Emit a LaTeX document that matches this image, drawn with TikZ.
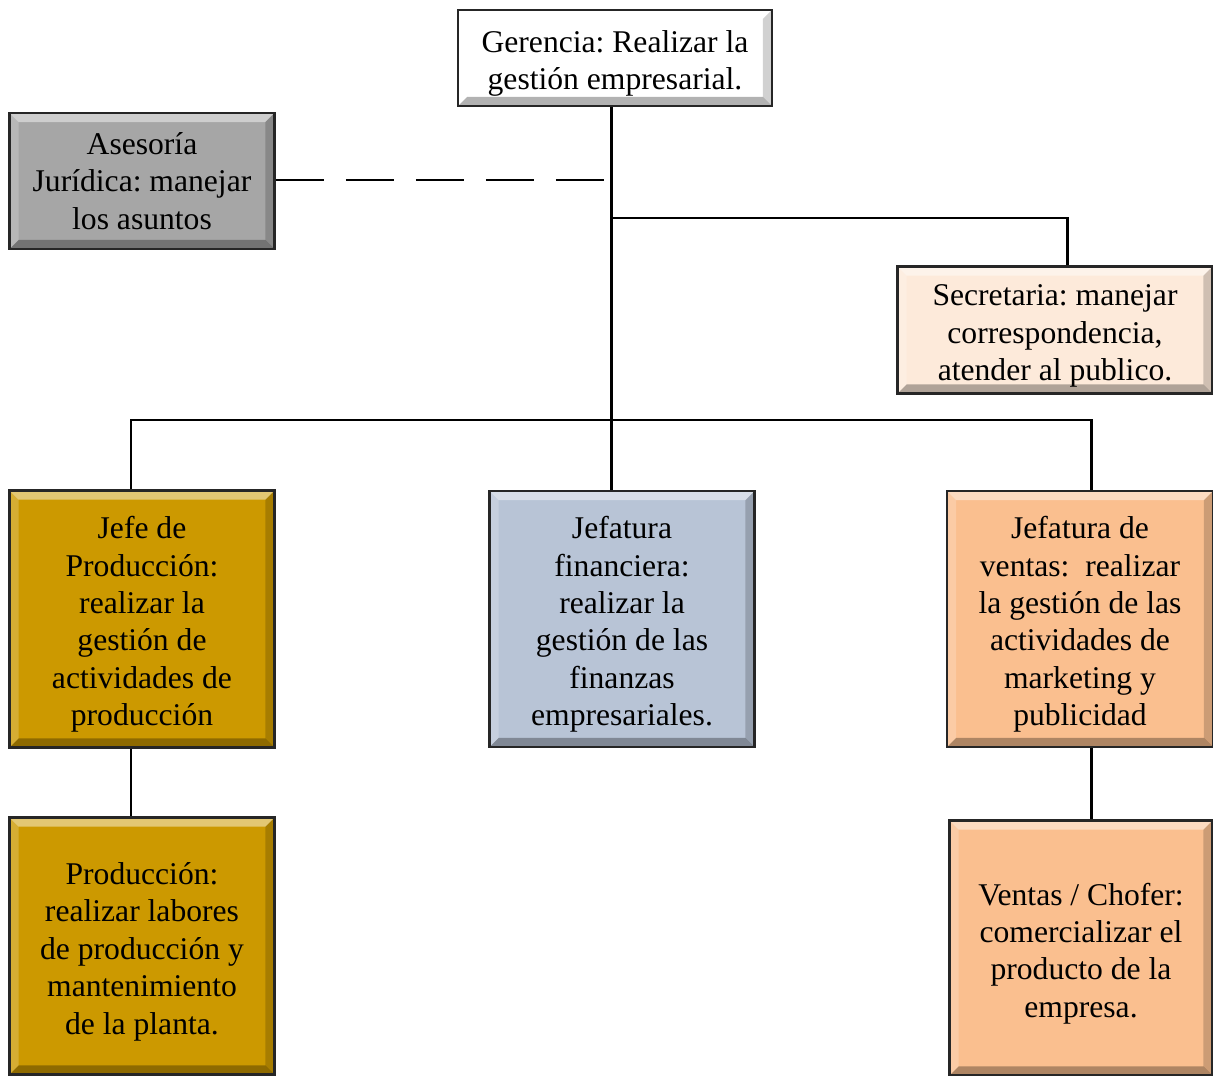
\documentclass[tikz,border=0pt]{standalone}
\usepackage{fontspec}
\setmainfont{Liberation Serif}
\frenchspacing
\usetikzlibrary{positioning,backgrounds}

\definecolor{gris}{RGB}{166,166,166}
\definecolor{crema}{RGB}{253,234,218}
\definecolor{oro}{RGB}{204,153,0}
\definecolor{azulgris}{RGB}{184,196,214}
\definecolor{salmon}{RGB}{250,191,143}

% bisel de las cajas: luz arriba e izquierda, sombra abajo y derecha
\newcommand\bisel{%
  \fill[white,opacity=.45] (path picture bounding box.north west) -- (path picture bounding box.north east)
    -- ([shift={(-.18cm,-.18cm)}]path picture bounding box.north east) -- ([shift={(.18cm,-.18cm)}]path picture bounding box.north west) -- cycle;
  \fill[white,opacity=.2] (path picture bounding box.north west) -- (path picture bounding box.south west)
    -- ([shift={(.18cm,.18cm)}]path picture bounding box.south west) -- ([shift={(.18cm,-.18cm)}]path picture bounding box.north west) -- cycle;
  \fill[black,opacity=.3] (path picture bounding box.south west) -- (path picture bounding box.south east)
    -- ([shift={(-.18cm,.18cm)}]path picture bounding box.south east) -- ([shift={(.18cm,.18cm)}]path picture bounding box.south west) -- cycle;
  \fill[black,opacity=.18] (path picture bounding box.north east) -- (path picture bounding box.south east)
    -- ([shift={(-.18cm,.18cm)}]path picture bounding box.south east) -- ([shift={(-.18cm,-.18cm)}]path picture bounding box.north east) -- cycle;
}

\tikzset{
  cargo/.style={draw=black!85, line width=1.6pt, align=flush center, inner sep=0pt,
    text width=4.8cm, font=\fontsize{18}{21.3}\selectfont, path picture={\bisel},
    execute at begin node={\spaceskip=0pt\xspaceskip=0pt}},
  % baja un poco el texto dentro de la caja
  bajo/.style={execute at begin node={\spaceskip=0pt\xspaceskip=0pt\rule{0pt}{1.05em}}},
  linea/.style={line width=1.7pt, black}
}

\begin{document}
\begin{tikzpicture}[x=0.02cm,y=-0.02cm]
  \useasboundingbox (0,0) rectangle (1213,1075);

  % cajas
  \node[cargo, bajo, text width=5.9cm, fill=white, minimum width=6.28cm, minimum height=1.92cm] (ger) at (615,58)
    {Gerencia: Realizar la\\gestión empresarial.};
  \node[cargo, fill=gris, minimum width=5.3cm, minimum height=2.72cm] (ase) at (142,181)
    {Asesoría\\Jurídica: manejar\\los asuntos};
  \node[cargo, bajo, text width=5.9cm, fill=crema, minimum width=6.3cm, minimum height=2.54cm] (sec) at (1055,330)
    {Secretaria: manejar\\correspondencia,\\atender al publico.};
  \node[cargo, bajo, fill=oro, minimum width=5.3cm, minimum height=5.14cm] (jef) at (142,619)
    {Jefe de\\Producción:\\realizar la\\gestión de\\actividades de\\producción};
  \node[cargo, bajo, fill=azulgris, minimum width=5.3cm, minimum height=5.12cm] (fin) at (622,619)
    {Jefatura\\financiera:\\realizar la\\gestión de las\\finanzas\\empresariales.};
  \node[cargo, bajo, fill=salmon, minimum width=5.32cm, minimum height=5.12cm] (ven) at (1080,619)
    {Jefatura de\\ventas:\ \ realizar\\la gestión de las\\actividades de\\marketing y\\publicidad};
  \node[cargo, bajo, fill=oro, minimum width=5.3cm, minimum height=5.14cm] (prod) at (142,946)
    {Producción:\\realizar labores\\de producción y\\mantenimiento\\de la planta.};
  \node[cargo, bajo, fill=salmon, minimum width=5.26cm, minimum height=5.1cm] (vc) at (1081,948)
    {Ventas / Chofer:\\comercializar el\\producto de la\\empresa.};

  % puntos del tronco
  \coordinate (cA) at (611,180);
  \coordinate (cS) at (611,218);
  \coordinate (cB) at (611,420);

  % conectores
  \begin{scope}[on background layer]
  \draw[linea] (ger.south -| cB) -- (fin.north -| cB);
  \draw[linea, dash pattern=on .96cm off .44cm] (ase.east |- cA) -- (cA);
  \draw[linea] (cS) -| ([xshift=.24cm]sec.north);
  \draw[linea] ([xshift=-.22cm]jef.north) |- (cB) -| ([xshift=.22cm]ven.north);
  \draw[linea] ([xshift=-.22cm]jef.south) -- ([xshift=-.22cm]prod.north);
  \draw[linea] ([xshift=.22cm]ven.south) -- ([xshift=.22cm]ven.south |- vc.north);
  \end{scope}
\end{tikzpicture}
\end{document}
